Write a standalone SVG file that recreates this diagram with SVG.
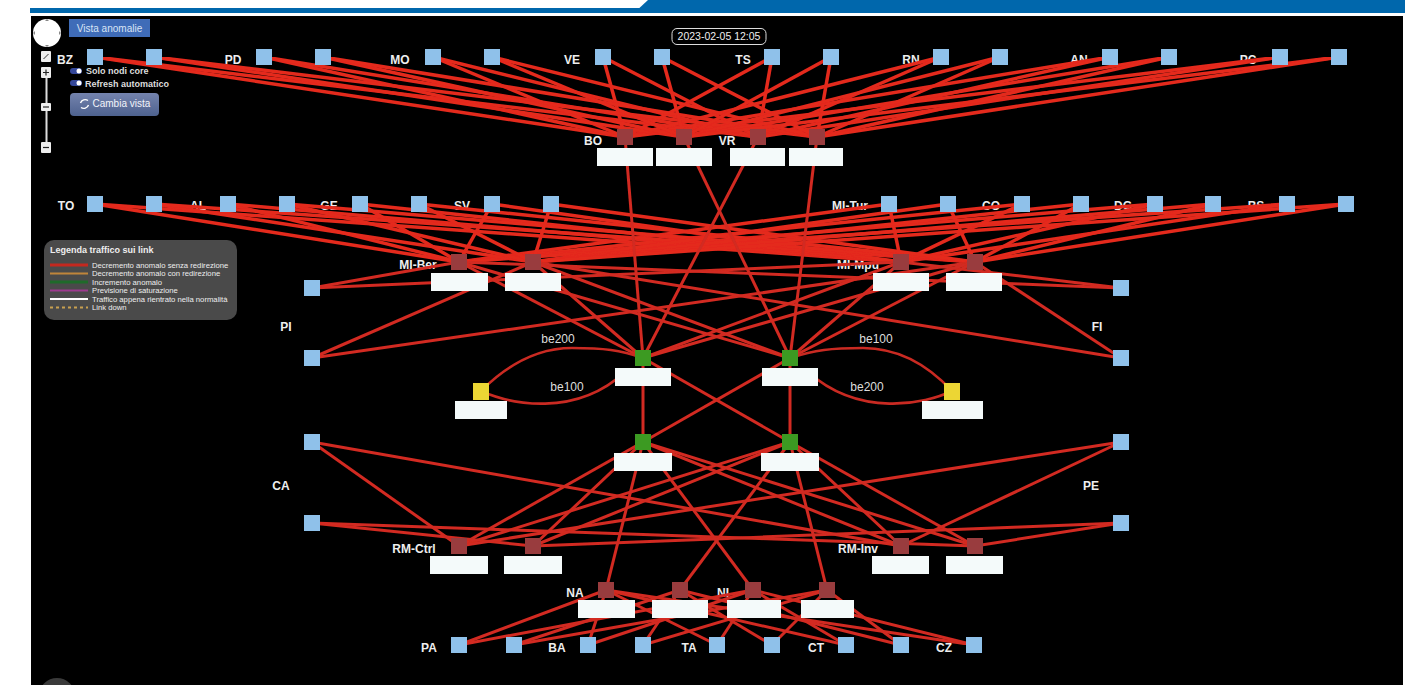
<svg xmlns="http://www.w3.org/2000/svg" width="1415" height="685" viewBox="0 0 1415 685">
<style>
text{font-family:"Liberation Sans",Arial,sans-serif}
.l{font-size:12px;font-weight:700;fill:#eee;text-anchor:middle}
.b{font-size:12px;fill:#ddd;text-anchor:middle}
.lg{font-size:7.7px;fill:#eee}
.s{fill:#8fc1ea}.c{fill:#993c3e}.g{fill:#3c9a22}.y{fill:#ecd634}.w{fill:#f4fafa}
#connectors line{stroke:#d22a20;stroke-width:3}
#connectors path{stroke:#c92a22;stroke-width:2.6;fill:none}
#connectors #top line{stroke:#e4291d;stroke-width:3.5}
</style>
<defs>
<linearGradient id="bt" x1="0" y1="0" x2="0" y2="1"><stop offset="0" stop-color="#7483ad"/><stop offset="1" stop-color="#4e628f"/></linearGradient>
<filter id="soft" x="0" y="0" width="1" height="1" filterUnits="objectBoundingBox"><feGaussianBlur stdDeviation="0.5"/></filter>
</defs>
<rect width="1415" height="685" fill="#fff"/>
<rect x="31" y="16" width="1372" height="669" fill="#000"/>
<rect x="30" y="8" width="610" height="5" fill="#0067ac"/>
<polygon points="648,0 1405,0 1405,13 634,13" fill="#0067ac"/>
<g id="labels">
<text class="l" x="65" y="64">BZ</text><text class="l" x="233" y="64">PD</text><text class="l" x="400" y="64">MO</text><text class="l" x="572" y="64">VE</text><text class="l" x="743" y="64">TS</text><text class="l" x="911" y="64">RN</text><text class="l" x="1079" y="64">AN</text><text class="l" x="1248" y="64">PC</text>
<text class="l" x="593" y="145">BO</text><text class="l" x="727" y="145">VR</text>
<text class="l" x="66" y="210">TO</text><text class="l" x="198" y="210">AL</text><text class="l" x="329" y="210">GE</text><text class="l" x="462" y="210">SV</text><text class="l" x="850" y="210">MI-Tur</text><text class="l" x="991" y="210">CO</text><text class="l" x="1123" y="210">DG</text><text class="l" x="1256" y="210">BS</text>
<text class="l" x="418" y="269">MI-Ber</text><text class="l" x="858" y="269">MI-Mpu</text>
<text class="l" x="286" y="331">PI</text><text class="l" x="1097" y="331">FI</text><text class="l" x="281" y="490">CA</text><text class="l" x="1091" y="490">PE</text>
<text class="l" x="414" y="553">RM-Ctrl</text><text class="l" x="858" y="553">RM-Inv</text>
<text class="l" x="575" y="597">NA</text><text class="l" x="723" y="597">NI</text>
<text class="l" x="429" y="652">PA</text><text class="l" x="557" y="652">BA</text><text class="l" x="689" y="652">TA</text><text class="l" x="816" y="652">CT</text><text class="l" x="944" y="652">CZ</text>
<text class="b" x="558" y="343">be200</text><text class="b" x="567" y="391">be100</text><text class="b" x="876" y="343">be100</text><text class="b" x="867" y="391">be200</text>
</g>
<g id="connectors" filter="url(#soft)">
<g id="top">
<line x1="95" y1="57" x2="625" y2="137"/><line x1="95" y1="57" x2="758" y2="137"/>
<line x1="264" y1="57" x2="625" y2="137"/><line x1="264" y1="57" x2="758" y2="137"/>
<line x1="433" y1="57" x2="625" y2="137"/><line x1="433" y1="57" x2="758" y2="137"/>
<line x1="603" y1="57" x2="625" y2="137"/><line x1="603" y1="57" x2="758" y2="137"/>
<line x1="772" y1="57" x2="625" y2="137"/><line x1="772" y1="57" x2="758" y2="137"/>
<line x1="941" y1="57" x2="625" y2="137"/><line x1="941" y1="57" x2="758" y2="137"/>
<line x1="1110" y1="57" x2="625" y2="137"/><line x1="1110" y1="57" x2="758" y2="137"/>
<line x1="1280" y1="57" x2="625" y2="137"/><line x1="1280" y1="57" x2="758" y2="137"/>
<line x1="154" y1="57" x2="684" y2="137"/><line x1="154" y1="57" x2="817" y2="137"/>
<line x1="323" y1="57" x2="684" y2="137"/><line x1="323" y1="57" x2="817" y2="137"/>
<line x1="492" y1="57" x2="684" y2="137"/><line x1="492" y1="57" x2="817" y2="137"/>
<line x1="662" y1="57" x2="684" y2="137"/><line x1="662" y1="57" x2="817" y2="137"/>
<line x1="831" y1="57" x2="684" y2="137"/><line x1="831" y1="57" x2="817" y2="137"/>
<line x1="1000" y1="57" x2="684" y2="137"/><line x1="1000" y1="57" x2="817" y2="137"/>
<line x1="1169" y1="57" x2="684" y2="137"/><line x1="1169" y1="57" x2="817" y2="137"/>
<line x1="1339" y1="57" x2="684" y2="137"/><line x1="1339" y1="57" x2="817" y2="137"/>
<line x1="95" y1="204" x2="459" y2="262"/><line x1="95" y1="204" x2="901" y2="262"/>
<line x1="228" y1="204" x2="459" y2="262"/><line x1="228" y1="204" x2="901" y2="262"/>
<line x1="360" y1="204" x2="459" y2="262"/><line x1="360" y1="204" x2="901" y2="262"/>
<line x1="492" y1="204" x2="459" y2="262"/><line x1="492" y1="204" x2="901" y2="262"/>
<line x1="889" y1="204" x2="459" y2="262"/><line x1="889" y1="204" x2="901" y2="262"/>
<line x1="1022" y1="204" x2="459" y2="262"/><line x1="1022" y1="204" x2="901" y2="262"/>
<line x1="1155" y1="204" x2="459" y2="262"/><line x1="1155" y1="204" x2="901" y2="262"/>
<line x1="1287" y1="204" x2="459" y2="262"/><line x1="1287" y1="204" x2="901" y2="262"/>
<line x1="154" y1="204" x2="533" y2="262"/><line x1="154" y1="204" x2="975" y2="262"/>
<line x1="287" y1="204" x2="533" y2="262"/><line x1="287" y1="204" x2="975" y2="262"/>
<line x1="419" y1="204" x2="533" y2="262"/><line x1="419" y1="204" x2="975" y2="262"/>
<line x1="551" y1="204" x2="533" y2="262"/><line x1="551" y1="204" x2="975" y2="262"/>
<line x1="948" y1="204" x2="533" y2="262"/><line x1="948" y1="204" x2="975" y2="262"/>
<line x1="1081" y1="204" x2="533" y2="262"/><line x1="1081" y1="204" x2="975" y2="262"/>
<line x1="1213" y1="204" x2="533" y2="262"/><line x1="1213" y1="204" x2="975" y2="262"/>
<line x1="1346" y1="204" x2="533" y2="262"/><line x1="1346" y1="204" x2="975" y2="262"/>
</g>
<line x1="625" y1="137" x2="643" y2="358"/><line x1="684" y1="137" x2="790" y2="358"/><line x1="758" y1="137" x2="643" y2="358"/><line x1="817" y1="137" x2="790" y2="358"/>
<line x1="312" y1="288" x2="459" y2="262"/><line x1="312" y1="288" x2="901" y2="262"/>
<line x1="312" y1="358" x2="533" y2="262"/><line x1="312" y1="358" x2="975" y2="262"/>
<line x1="1121" y1="288" x2="901" y2="262"/><line x1="1121" y1="288" x2="459" y2="262"/>
<line x1="1121" y1="358" x2="975" y2="262"/><line x1="1121" y1="358" x2="533" y2="262"/>
<line x1="459" y1="262" x2="643" y2="358"/><line x1="533" y1="262" x2="643" y2="358"/><line x1="901" y1="262" x2="643" y2="358"/><line x1="975" y1="262" x2="643" y2="358"/>
<line x1="459" y1="262" x2="790" y2="358"/><line x1="533" y1="262" x2="790" y2="358"/><line x1="901" y1="262" x2="790" y2="358"/><line x1="975" y1="262" x2="790" y2="358"/>
<path d="M481 391C510 362 540 348 572 348S620 350 643 358"/><path d="M481 391C510 404 575 418 625 372"/>
<path d="M952 391C925 362 895 348 863 348S815 350 790 358"/><path d="M952 391C925 404 860 418 808 372"/>
<line x1="643" y1="358" x2="643" y2="442"/><line x1="790" y1="358" x2="790" y2="442"/><line x1="643" y1="358" x2="790" y2="442"/><line x1="790" y1="358" x2="643" y2="442"/>
<line x1="643" y1="442" x2="459" y2="546"/><line x1="643" y1="442" x2="533" y2="546"/><line x1="643" y1="442" x2="901" y2="546"/><line x1="643" y1="442" x2="975" y2="546"/>
<line x1="790" y1="442" x2="459" y2="546"/><line x1="790" y1="442" x2="533" y2="546"/><line x1="790" y1="442" x2="901" y2="546"/><line x1="790" y1="442" x2="975" y2="546"/>
<line x1="312" y1="442" x2="459" y2="546"/><line x1="312" y1="442" x2="901" y2="546"/>
<line x1="312" y1="523" x2="533" y2="546"/><line x1="312" y1="523" x2="975" y2="546"/>
<line x1="1121" y1="442" x2="901" y2="546"/><line x1="1121" y1="442" x2="459" y2="546"/>
<line x1="1121" y1="523" x2="975" y2="546"/><line x1="1121" y1="523" x2="533" y2="546"/>
<line x1="643" y1="442" x2="606" y2="590"/><line x1="790" y1="442" x2="680" y2="590"/><line x1="643" y1="442" x2="753" y2="590"/><line x1="790" y1="442" x2="827" y2="590"/>
<line x1="459" y1="645" x2="606" y2="590"/><line x1="459" y1="645" x2="753" y2="590"/>
<line x1="588" y1="645" x2="606" y2="590"/><line x1="588" y1="645" x2="753" y2="590"/>
<line x1="717" y1="645" x2="606" y2="590"/><line x1="717" y1="645" x2="753" y2="590"/>
<line x1="846" y1="645" x2="606" y2="590"/><line x1="846" y1="645" x2="753" y2="590"/>
<line x1="974" y1="645" x2="606" y2="590"/><line x1="974" y1="645" x2="753" y2="590"/>
<line x1="514" y1="645" x2="680" y2="590"/><line x1="514" y1="645" x2="827" y2="590"/>
<line x1="643" y1="645" x2="680" y2="590"/><line x1="643" y1="645" x2="827" y2="590"/>
<line x1="772" y1="645" x2="680" y2="590"/><line x1="772" y1="645" x2="827" y2="590"/>
<line x1="901" y1="645" x2="680" y2="590"/><line x1="901" y1="645" x2="827" y2="590"/>
</g>
<g id="nodes-top">
<rect id="n1" class="s" x="87" y="49" width="16" height="16"/><rect id="n2" class="s" x="146" y="49" width="16" height="16"/><rect id="n3" class="s" x="256" y="49" width="16" height="16"/><rect id="n4" class="s" x="315" y="49" width="16" height="16"/><rect id="n5" class="s" x="425" y="49" width="16" height="16"/><rect id="n6" class="s" x="484" y="49" width="16" height="16"/><rect id="n7" class="s" x="595" y="49" width="16" height="16"/><rect id="n8" class="s" x="654" y="49" width="16" height="16"/><rect id="n9" class="s" x="764" y="49" width="16" height="16"/><rect id="n10" class="s" x="823" y="49" width="16" height="16"/><rect id="n11" class="s" x="933" y="49" width="16" height="16"/><rect id="n12" class="s" x="992" y="49" width="16" height="16"/><rect id="n13" class="s" x="1102" y="49" width="16" height="16"/><rect id="n14" class="s" x="1161" y="49" width="16" height="16"/><rect id="n15" class="s" x="1272" y="49" width="16" height="16"/><rect id="n16" class="s" x="1331" y="49" width="16" height="16"/>
</g>
<g id="nodes-second">
<rect id="n17" class="s" x="87" y="196" width="16" height="16"/><rect id="n18" class="s" x="146" y="196" width="16" height="16"/><rect id="n19" class="s" x="220" y="196" width="16" height="16"/><rect id="n20" class="s" x="279" y="196" width="16" height="16"/><rect id="n21" class="s" x="352" y="196" width="16" height="16"/><rect id="n22" class="s" x="411" y="196" width="16" height="16"/><rect id="n23" class="s" x="484" y="196" width="16" height="16"/><rect id="n24" class="s" x="543" y="196" width="16" height="16"/><rect id="n25" class="s" x="881" y="196" width="16" height="16"/><rect id="n26" class="s" x="940" y="196" width="16" height="16"/><rect id="n27" class="s" x="1014" y="196" width="16" height="16"/><rect id="n28" class="s" x="1073" y="196" width="16" height="16"/><rect id="n29" class="s" x="1147" y="196" width="16" height="16"/><rect id="n30" class="s" x="1205" y="196" width="16" height="16"/><rect id="n31" class="s" x="1279" y="196" width="16" height="16"/><rect id="n32" class="s" x="1338" y="196" width="16" height="16"/>
</g>
<g id="nodes-side">
<rect id="n33" class="s" x="304" y="280" width="16" height="16"/><rect id="n34" class="s" x="304" y="350" width="16" height="16"/><rect id="n35" class="s" x="1113" y="280" width="16" height="16"/><rect id="n36" class="s" x="1113" y="350" width="16" height="16"/><rect id="n37" class="s" x="304" y="434" width="16" height="16"/><rect id="n38" class="s" x="304" y="515" width="16" height="16"/><rect id="n39" class="s" x="1113" y="434" width="16" height="16"/><rect id="n40" class="s" x="1113" y="515" width="16" height="16"/>
</g>
<g id="nodes-bottom">
<rect id="n41" class="s" x="451" y="637" width="16" height="16"/><rect id="n42" class="s" x="506" y="637" width="16" height="16"/><rect id="n43" class="s" x="580" y="637" width="16" height="16"/><rect id="n44" class="s" x="635" y="637" width="16" height="16"/><rect id="n45" class="s" x="709" y="637" width="16" height="16"/><rect id="n46" class="s" x="764" y="637" width="16" height="16"/><rect id="n47" class="s" x="838" y="637" width="16" height="16"/><rect id="n48" class="s" x="893" y="637" width="16" height="16"/><rect id="n49" class="s" x="966" y="637" width="16" height="16"/>
</g>
<g id="c1"><rect class="c" x="617" y="129" width="16" height="16"/><rect class="w" x="597" y="148" width="56" height="18"/></g>
<g id="c2"><rect class="c" x="676" y="129" width="16" height="16"/><rect class="w" x="656" y="148" width="56" height="18"/></g>
<g id="c3"><rect class="c" x="750" y="129" width="16" height="16"/><rect class="w" x="730" y="148" width="55" height="18"/></g>
<g id="c4"><rect class="c" x="809" y="129" width="16" height="16"/><rect class="w" x="789" y="148" width="54" height="18"/></g>
<g id="c5"><rect class="c" x="451" y="254" width="16" height="16"/><rect class="w" x="431" y="273" width="57" height="18"/></g>
<g id="c6"><rect class="c" x="525" y="254" width="16" height="16"/><rect class="w" x="505" y="273" width="56" height="18"/></g>
<g id="c7"><rect class="c" x="893" y="254" width="16" height="16"/><rect class="w" x="873" y="273" width="56" height="18"/></g>
<g id="c8"><rect class="c" x="967" y="254" width="16" height="16"/><rect class="w" x="946" y="273" width="56" height="18"/></g>
<g id="g1"><rect class="g" x="635" y="350" width="16" height="16"/><rect class="w" x="615" y="368" width="56" height="18"/></g>
<g id="g2"><rect class="g" x="782" y="350" width="16" height="16"/><rect class="w" x="762" y="368" width="56" height="18"/></g>
<g id="y1"><rect class="y" x="473" y="383" width="16" height="17"/><rect class="w" x="455" y="401" width="52" height="18"/></g>
<g id="y2"><rect class="y" x="944" y="383" width="16" height="17"/><rect class="w" x="922" y="401" width="61" height="18"/></g>
<g id="g3"><rect class="g" x="635" y="434" width="16" height="16"/><rect class="w" x="614" y="453" width="58" height="18"/></g>
<g id="g4"><rect class="g" x="782" y="434" width="16" height="16"/><rect class="w" x="761" y="453" width="58" height="18"/></g>
<g id="c9"><rect class="c" x="451" y="538" width="16" height="16"/><rect class="w" x="430" y="556" width="58" height="18"/></g>
<g id="c10"><rect class="c" x="525" y="538" width="16" height="16"/><rect class="w" x="504" y="556" width="58" height="18"/></g>
<g id="c11"><rect class="c" x="893" y="538" width="16" height="16"/><rect class="w" x="872" y="556" width="57" height="18"/></g>
<g id="c12"><rect class="c" x="967" y="538" width="16" height="16"/><rect class="w" x="946" y="556" width="57" height="18"/></g>
<g id="c13"><rect class="c" x="598" y="582" width="16" height="16"/><rect class="w" x="578" y="600" width="57" height="18"/></g>
<g id="c14"><rect class="c" x="672" y="582" width="16" height="16"/><rect class="w" x="652" y="600" width="56" height="18"/></g>
<g id="c15"><rect class="c" x="745" y="582" width="16" height="16"/><rect class="w" x="727" y="600" width="54" height="18"/></g>
<g id="c16"><rect class="c" x="819" y="582" width="16" height="16"/><rect class="w" x="801" y="600" width="53" height="18"/></g>
<g id="controls">
<circle cx="47" cy="33" r="14" fill="#fff"/>
<path d="M45 21h4l-2-2zM45 45h4l-2 2zM35 31v4l-2-2zM59 31v4l2-2z" fill="#888"/>
<rect x="69" y="19" width="81" height="18" fill="#3f6cb8"/><text x="109.500" y="32" font-size="10" fill="#d9e4f5" text-anchor="middle">Vista anomalie</text>
<rect x="45.500" y="70" width="2" height="78" fill="#ddd"/>
<rect x="41" y="51" width="10" height="11" rx="1" fill="#eee"/><path d="M43.500 59l5-5" stroke="#333"/>
<rect x="41" y="67" width="10" height="11" rx="1" fill="#eee"/><path d="M43 72.500h6M46 69.500v6" stroke="#222" stroke-width="1.200"/>
<rect x="41" y="103" width="10" height="8" rx="1" fill="#eee"/><path d="M43 107h6" stroke="#222" stroke-width="1.200"/>
<rect x="41" y="142" width="10" height="11" rx="1" fill="#eee"/><path d="M43 147.500h6" stroke="#222" stroke-width="1.200"/>
<rect x="70" y="68" width="12" height="6" rx="3" fill="#34479a"/><circle cx="79" cy="71" r="2.500" fill="#fff"/>
<rect x="70" y="80" width="12" height="6" rx="3" fill="#34479a"/><circle cx="79" cy="83" r="2.500" fill="#fff"/>
<text x="86" y="74" font-size="9" font-weight="700" fill="#ddd">Solo nodi core</text>
<text x="85" y="87" font-size="9" font-weight="700" fill="#ddd">Refresh automatico</text>
<rect x="70" y="93" width="89" height="23" rx="4" fill="url(#bt)"/>
<path d="M88 100.500a5 5 0 0 0-7.500 2.500M81 107.500a5 5 0 0 0 7.500-2.500" fill="none" stroke="#fff" stroke-width="1.400"/>
<text x="92.500" y="107" font-size="10" fill="#f2f4fa">Cambia vista</text>
<rect x="672" y="28.500" width="94" height="16" rx="5" fill="#000" stroke="#ddd"/>
<text x="719" y="40" font-size="10.500" fill="#eee" text-anchor="middle">2023-02-05 12:05</text>
<circle cx="57" cy="696" r="18" fill="#3a3a3a"/>
</g>
<g id="legend">
<rect x="44" y="240" width="193" height="80" rx="10" fill="#4a4a4a"/>
<text x="50" y="253" font-size="9" font-weight="700" fill="#eee">Legenda traffico sui link</text>
<path d="M50 265h38" stroke="#c4281f" stroke-width="3"/>
<path d="M50 273.500h38" stroke="#c0853a" stroke-width="2"/>
<path d="M50 282h38" stroke="#1f6a2a" stroke-width="3"/>
<path d="M50 290.500h38" stroke="#9c3a8e" stroke-width="2"/>
<path d="M50 299h38" stroke="#fff" stroke-width="2"/>
<path d="M50 307.500h38" stroke="#c8a050" stroke-width="2" stroke-dasharray="3 3"/>
<text class="lg" x="92" y="268">Decremento anomalo senza redirezione</text>
<text class="lg" x="92" y="276">Decremento anomalo con redirezione</text>
<text class="lg" x="92" y="285">Incremento anomalo</text>
<text class="lg" x="92" y="293">Previsione di saturazione</text>
<text class="lg" x="92" y="302">Traffico appena rientrato nella normalità</text>
<text class="lg" x="92" y="310">Link down</text>
</g>
</svg>
